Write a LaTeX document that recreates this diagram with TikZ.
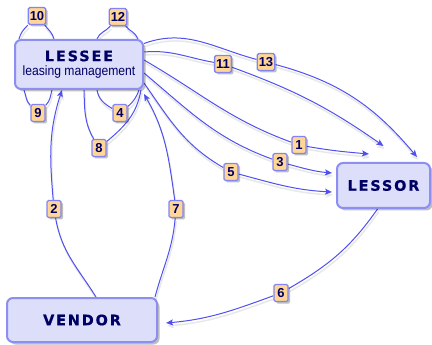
\documentclass[tikz,border=0pt]{standalone}
\usepackage{fontspec}
\setmainfont{Liberation Sans}
\newfontfamily\titlefont[LetterSpace=13, BoldFeatures={FakeBold=0.6}]{DejaVu Sans}
\newfontfamily\subfont[FakeStretch=0.9]{Liberation Sans}
\usetikzlibrary{arrows.meta,shadows}
\definecolor{boxfill}{RGB}{220,222,250}
\definecolor{boxdraw}{RGB}{140,142,240}
\definecolor{navy}{RGB}{0,0,100}
\definecolor{labfill}{RGB}{255,214,150}
\definecolor{labdraw}{RGB}{130,132,240}
\definecolor{linecol}{RGB}{80,80,240}
\pgfdeclarelayer{background}
\pgfsetlayers{background,main}
\begin{document}
\begin{tikzpicture}[x=1pt,y=1pt,
  bigbox/.style={draw=boxdraw, fill=boxfill, line width=2pt, rounded corners=6pt,
    text=navy, align=center, inner sep=0pt,
    drop shadow={shadow xshift=2.5pt, shadow yshift=-2.5pt, fill=black, opacity=0.25}},
  title/.style={font=\titlefont\bfseries\fontsize{14.4}{15}\selectfont},
  lab/.style={draw=labdraw, fill=labfill, line width=1.4pt, rounded corners=1.5pt,
    minimum width=14pt, minimum height=17pt, inner sep=1.5pt, text=navy,
    font=\bfseries\fontsize{13}{13}\selectfont,
    drop shadow={shadow xshift=2pt, shadow yshift=-2pt, fill=black, opacity=0.25}},
  conn/.style={draw=linecol, line width=1pt,
    preaction={draw=black!9, line width=1.5pt, transform canvas={shift={(1pt,-3pt)}}}},
  arr/.style={conn, -{Stealth[length=7pt,width=6pt,inset=1.5pt]}}]
\useasboundingbox (0,0) rectangle (432,-345);

\node[bigbox, minimum width=128pt, minimum height=49pt] (lessee) at (79,-64.5)
  {{\titlefont\bfseries\fontsize{14.4}{15}\selectfont LESSEE}\\[2.5pt]{\subfont\fontsize{13.5}{15}\selectfont leasing management}};
\node[bigbox, minimum width=93pt, minimum height=45pt, title] (lessor) at (383.5,-185.5) {LESSOR};
\node[bigbox, minimum width=150pt, minimum height=44pt, title] (vendor) at (82,-320) {VENDOR};

\node[lab] (l10) at (37,-16) {10};
\node[lab] (l12) at (118,-17) {12};
\node[lab] (l9) at (38,-113) {9};
\node[lab] (l4) at (120,-113) {4};
\node[lab] (l8) at (99,-148) {8};
\node[lab] (l11) at (223,-64) {11};
\node[lab] (l13) at (266,-62) {13};
\node[lab] (l1) at (299,-145) {1};
\node[lab] (l3) at (280,-162) {3};
\node[lab] (l5) at (231,-172) {5};
\node[lab] (l7) at (176,-209) {7};
\node[lab] (l2) at (54,-209) {2};
\node[lab] (l6) at (281,-293) {6};

\begin{pgfonlayer}{background}
\draw[conn] ([xshift=5pt]lessee.north west) to[out=75,in=225] (l10) to[out=-50,in=105] ([xshift=40pt]lessee.north west);
\draw[conn] ([xshift=83pt]lessee.north west) to[out=70,in=230] (l12) to[out=-50,in=110] ([xshift=-6pt]lessee.north east);
\draw[conn] ([xshift=10pt]lessee.south west) to[out=-70,in=135] (l9) to[out=45,in=-105] ([xshift=38pt]lessee.south west);
\draw[conn] ([xshift=83pt]lessee.south west) to[out=-80,in=150] (l4) to[out=40,in=-110] ([xshift=-5pt]lessee.south east);
\draw[conn] ([xshift=70pt]lessee.south west) to[out=-88,in=120] (l8) to[out=40,in=-100] ([xshift=-3pt]lessee.south east);
\draw[arr] ([xshift=90pt]vendor.north west) to[out=122,in=-80] (l2) to[out=95,in=-108] ([xshift=48pt]lessee.south west);
\draw[arr] ([xshift=-3pt]vendor.north east) to[out=75,in=-95] (l7) to[out=98,in=-60] ([yshift=-4pt]lessee.south east);
\draw[arr] ([xshift=-6pt]lessor.south) to[out=-125,in=30] (l6) to[out=-160,in=5] ([xshift=8pt,yshift=-3pt]vendor.east);
\draw[arr] ([yshift=21pt]lessee.east) to[out=20,in=165] (l13) to[out=-15,in=130] ([xshift=-14pt,yshift=5pt]lessor.north east);
\draw[arr] ([yshift=12.5pt]lessee.east) to[out=5,in=170] (l11) to[out=-20,in=145] ([yshift=16pt]lessor.north);
\draw[arr] ([yshift=4.5pt]lessee.east) to[out=-30,in=160] (l1) to[out=-10,in=175] ([xshift=33pt,yshift=8pt]lessor.north west);
\draw[arr] ([yshift=-8.5pt]lessee.east) to[out=-40,in=160] (l3) to[out=-15,in=175] ([xshift=-4pt,yshift=12.5pt]lessor.west);
\draw[arr] ([yshift=-18.5pt]lessee.east) to[out=-55,in=150] (l5) to[out=-15,in=177] ([xshift=-4pt,yshift=-6.5pt]lessor.west);
\end{pgfonlayer}
\end{tikzpicture}
\end{document}
